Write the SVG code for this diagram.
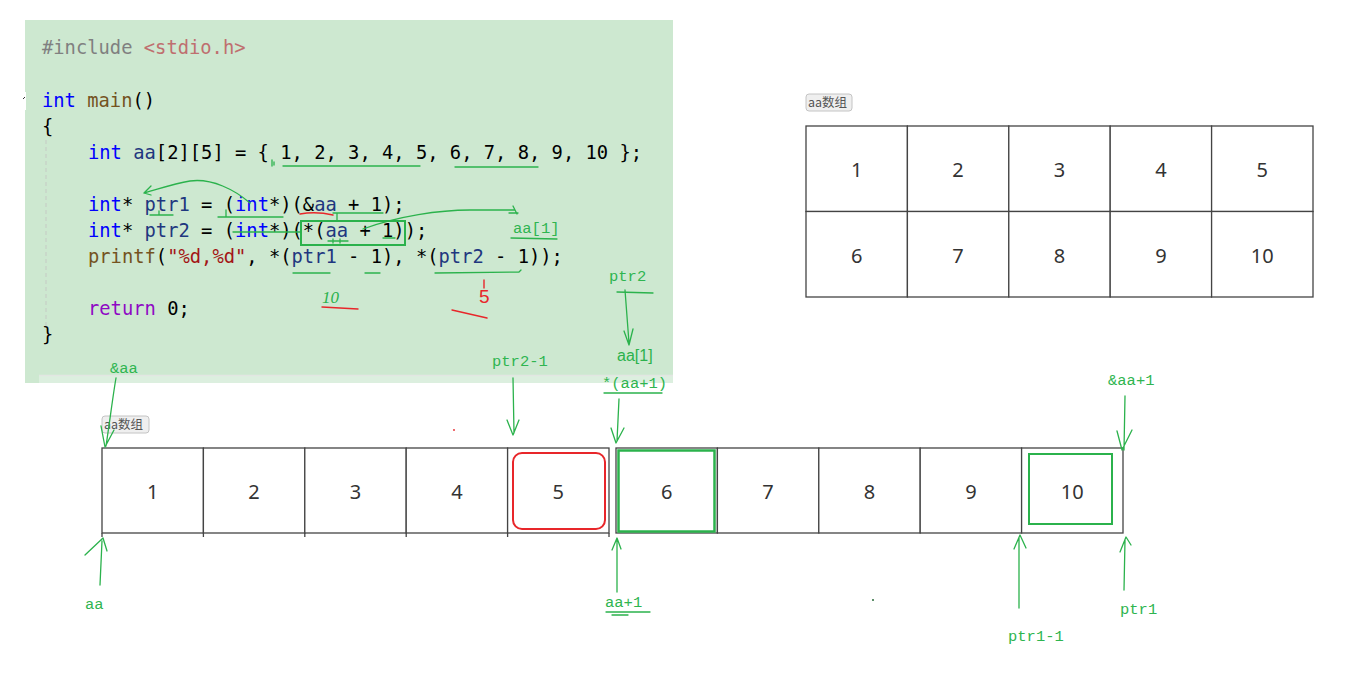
<svg xmlns="http://www.w3.org/2000/svg" width="1360" height="682" viewBox="0 0 1360 682">
<style>
.code{font-family:"DejaVu Sans Mono","Liberation Mono",monospace;font-size:18.8px;fill:#000;white-space:pre}
.kw{fill:#0000ff}.id{fill:#1f377f}.fn{fill:#74531f}.str{fill:#a31515}.pp{fill:#808080}.inc{fill:#bf6f6f}.ret{fill:#8f08c4}
.cell{fill:#fff;stroke:#444;stroke-width:1.3}
.num{font-family:"Noto Sans","Liberation Sans",sans-serif;font-size:20px;fill:#333;text-anchor:middle}
.badge{fill:#efefef;stroke:#c4c4c4;stroke-width:1}
.btxt{font-family:"Noto Sans CJK SC","Noto Sans",sans-serif;font-size:12.5px;fill:#555}
.hand{fill:none;stroke:#2bb24c;stroke-width:1.3;stroke-linecap:round;stroke-linejoin:round}
.red{fill:none;stroke:#e8262a;stroke-width:1.4;stroke-linecap:round}
.lbl{font-family:"Liberation Mono","DejaVu Sans Mono",monospace;font-size:15.5px;fill:#2fb550}
</style>
<rect width="1360" height="682" fill="#fff"/>

<g id="code-panel">
<rect x="25" y="20" width="648" height="363" fill="#cde8d0"/>
<rect x="39" y="375" width="634" height="8" fill="#dcefdf"/>
<line x1="39" y1="375.5" x2="673" y2="375.5" stroke="#e2e6e2" stroke-width="1.5"/>
<rect x="20" y="92" width="6" height="18" fill="#fff"/>
<path d="M23,99 l2,-2" stroke="#333" stroke-width="1"/>
<line x1="46" y1="140" x2="46" y2="330" stroke="#c8d4c8" stroke-width="1.5" stroke-dasharray="4,3"/>
<text class="code" x="42" y="54"><tspan class="pp">#include</tspan> <tspan class="inc">&lt;stdio.h&gt;</tspan></text>
<text class="code" x="42" y="107"><tspan class="kw">int</tspan> <tspan class="fn">main</tspan>()</text>
<text class="code" x="42" y="133">{</text>
<text class="code" x="88" y="159"><tspan class="kw">int</tspan> <tspan class="id">aa</tspan>[2][5] = { 1, 2, 3, 4, 5, 6, 7, 8, 9, 10 };</text>
<text class="code" x="88" y="211"><tspan class="kw">int</tspan>* <tspan class="id">ptr1</tspan> = (<tspan class="kw">int</tspan>*)(&amp;<tspan class="id">aa</tspan> + 1);</text>
<text class="code" x="88" y="237"><tspan class="kw">int</tspan>* <tspan class="id">ptr2</tspan> = (<tspan class="kw">int</tspan>*)(*(<tspan class="id">aa</tspan> + 1));</text>
<text class="code" x="88" y="263"><tspan class="fn">printf</tspan>(<tspan class="str">"%d,%d"</tspan>, *(<tspan class="id">ptr1</tspan> - 1), *(<tspan class="id">ptr2</tspan> - 1));</text>
<text class="code" x="88" y="315"><tspan class="ret">return</tspan> 0;</text>
<text class="code" x="42" y="341">}</text>
</g>

<g id="code-annotations">
<path class="hand" d="M272,160 L272,166 M274,162 L274,165"/>
<path class="hand" d="M283,166 L420,166"/>
<path class="hand" d="M455,167 L538,167"/>
<path class="hand" d="M250,203 C235,190 212,178 190,181 C172,184 156,190 144,193 M144,193 L151,186 M144,193 L151,195"/>
<path class="hand" d="M150,215 L173,215 M159,211 L159,215"/>
<path class="hand" d="M218,217 L283,217 M226,210 L226,217"/>
<path class="red" d="M300,214 Q316,211 333,215"/>
<path class="hand" d="M333,213 L383,213 M337,213 L337,221"/>
<rect x="301" y="221" width="104" height="24" fill="none" stroke="#2bb24c" stroke-width="2"/>
<path class="hand" d="M363,229 C398,216 440,210 470,210 L515,210 M513,206 L517,214 M509,213 L518,213"/>
<text class="lbl" x="513" y="233">aa[1]</text>
<path class="hand" d="M511,238 L557,239"/>
<path class="hand" d="M233,232 L300,232"/>
<path class="hand" d="M328,241 L348,241 M333,239 L333,243 M340,239 L340,243"/>
<path class="hand" d="M383,238 L395,238"/>
<path class="hand" d="M293,273 L330,273 M365,273 L380,273 M435,273 L519,272 L521,270"/>
<text x="322" y="303" font-family="Liberation Serif,serif" font-style="italic" font-size="17" fill="#2bb24c">10</text>
<path class="red" d="M322,307 L358,309"/>
<text x="479" y="303" font-family="Liberation Sans,sans-serif" font-size="19" fill="#e8262a">5</text>
<path class="red" d="M484,280 L484,288"/>
<path class="red" d="M452,310 L487,318"/>
<text class="lbl" x="609" y="281">ptr2</text>
<path class="hand" d="M617,292 L653,293 M625,290 L629,343 M624,331 L629,345 L633,329"/>
<text x="617" y="361" font-family="Liberation Sans,sans-serif" font-size="16" fill="#2bb24c">aa[1]</text>
<text class="lbl" x="602" y="388">*(aa+1)</text>
<path class="hand" d="M604,393 L662,393"/>
</g>

<g id="matrix-table">
<rect class="badge" x="806" y="94" width="46" height="17" rx="3"/>
<text class="btxt" x="808" y="107">aa数组</text>
<g id="m-r1">
<rect class="cell" x="806" y="126" width="101.4" height="85.5"/>
<rect class="cell" x="907.4" y="126" width="101.4" height="85.5"/>
<rect class="cell" x="1008.8" y="126" width="101.4" height="85.5"/>
<rect class="cell" x="1110.2" y="126" width="101.4" height="85.5"/>
<rect class="cell" x="1211.6" y="126" width="101.4" height="85.5"/>
<text class="num" x="856.7" y="177">1</text>
<text class="num" x="958.1" y="177">2</text>
<text class="num" x="1059.5" y="177">3</text>
<text class="num" x="1160.9" y="177">4</text>
<text class="num" x="1262.3" y="177">5</text>
</g>
<g id="m-r2">
<rect class="cell" x="806" y="211.5" width="101.4" height="85.5"/>
<rect class="cell" x="907.4" y="211.5" width="101.4" height="85.5"/>
<rect class="cell" x="1008.8" y="211.5" width="101.4" height="85.5"/>
<rect class="cell" x="1110.2" y="211.5" width="101.4" height="85.5"/>
<rect class="cell" x="1211.6" y="211.5" width="101.4" height="85.5"/>
<text class="num" x="856.7" y="263">6</text>
<text class="num" x="958.1" y="263">7</text>
<text class="num" x="1059.5" y="263">8</text>
<text class="num" x="1160.9" y="263">9</text>
<text class="num" x="1262.3" y="263">10</text>
</g>
</g>

<g id="linear-array">
<rect class="badge" x="102" y="416" width="47" height="17" rx="3"/>
<text class="btxt" x="104" y="429">aa数组</text>
<g id="row0">
<rect class="cell" x="102" y="448" width="101.4" height="85"/>
<rect class="cell" x="203.4" y="448" width="101.4" height="85"/>
<rect class="cell" x="304.8" y="448" width="101.4" height="85"/>
<rect class="cell" x="406.2" y="448" width="101.4" height="85"/>
<rect class="cell" x="507.6" y="448" width="101.4" height="85"/>
<path d="M102,533 V537 M203.4,533 V537 M304.8,533 V537 M406.2,533 V537 M507.6,533 V537 M609,533 V537" stroke="#444" stroke-width="1.3"/>
<rect x="513" y="453" width="92" height="76" rx="9" fill="none" stroke="#e8262a" stroke-width="2"/>
<text class="num" x="152.7" y="499">1</text>
<text class="num" x="254.1" y="499">2</text>
<text class="num" x="355.5" y="499">3</text>
<text class="num" x="456.9" y="499">4</text>
<text class="num" x="558.3" y="499">5</text>
</g>
<g id="row1">
<rect class="cell" x="616" y="448" width="101.4" height="85"/>
<rect class="cell" x="717.4" y="448" width="101.4" height="85"/>
<rect class="cell" x="818.8" y="448" width="101.4" height="85"/>
<rect class="cell" x="920.2" y="448" width="101.4" height="85"/>
<rect class="cell" x="1021.6" y="448" width="101.4" height="85"/>
<rect x="618.5" y="450.5" width="96" height="81" fill="none" stroke="#2bb24c" stroke-width="2.5"/>
<rect x="1029" y="454" width="83" height="70" fill="none" stroke="#2bb24c" stroke-width="2"/>
<text class="num" x="666.7" y="499">6</text>
<text class="num" x="768.1" y="499">7</text>
<text class="num" x="869.5" y="499">8</text>
<text class="num" x="970.9" y="499">9</text>
<text class="num" x="1072.3" y="499">10</text>
</g>
<circle cx="454" cy="430" r="0.9" fill="#e8262a"/>
<circle cx="873" cy="600" r="1" fill="#2a6a3a"/>
</g>

<g id="connectors">
<text class="lbl" x="110" y="373">&amp;aa</text>
<path class="hand" d="M116,378 C113,395 110,420 106,446 M101,426 L105,447 L114,430"/>
<text class="lbl" x="492" y="366">ptr2-1</text>
<path class="hand" d="M513,378 L514,433 M507,420 L513,435 L519,420"/>
<path class="hand" d="M619,399 L617,441 M611,428 L616,443 L624,428"/>
<text class="lbl" x="1108" y="385">&amp;aa+1</text>
<path class="hand" d="M1125,396 L1124,450 M1117,431 L1122,450 L1132,430"/>
<text class="lbl" x="85" y="609">aa</text>
<path class="hand" d="M100,585 L102,541 M85,555 L103,538 L107,551"/>
<text class="lbl" x="605" y="607">aa+1</text>
<path class="hand" d="M606,612 L650,612 M612,615 L628,615"/>
<path class="hand" d="M617,592 L617,540 M612,550 L617,538 L621,549"/>
<text class="lbl" x="1008" y="641">ptr1-1</text>
<path class="hand" d="M1019,608 L1019,538 M1014,549 L1020,535 L1026,548"/>
<text class="lbl" x="1120" y="614">ptr1</text>
<path class="hand" d="M1124,590 L1125,540 M1120,552 L1126,537 L1131,545"/>
</g>
</svg>
